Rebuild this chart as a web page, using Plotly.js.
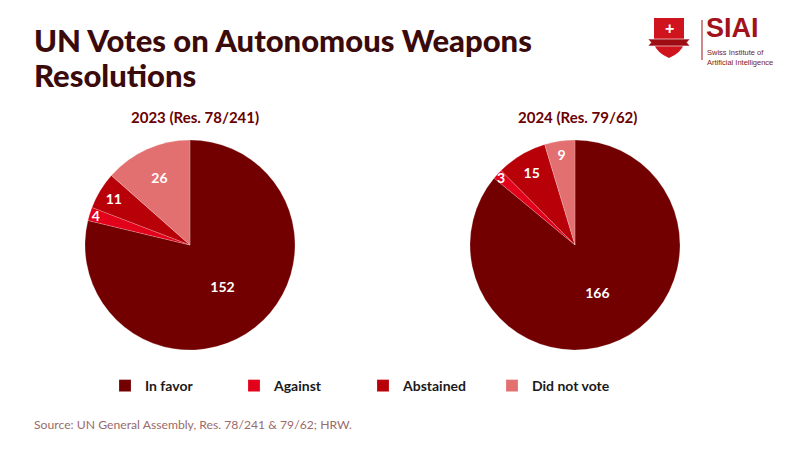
<!DOCTYPE html>
<html><head><meta charset="utf-8">
<script src="https://cdn.plot.ly/plotly-3.0.1.min.js"></script>
<style>html,body{margin:0;padding:0;background:#fff;}#chart{width:800px;height:450px;}</style>
</head><body><div id="chart"></div>
<script>
const categories = ["In favor", "Against", "Abstained", "Did not vote"];
const votes2023 = [152, 4, 11, 26];
const votes2024 = [166, 3, 15, 9];
const pieTitles = ["2023 (Res. 78/241)", "2024 (Res. 79/62)"];
const titleLines = ["UN Votes on Autonomous Weapons", "Resolutions"];
const colors = ["#730000", "#e3001b", "#b80008", "#e37070"];

const FONT = "Lato, 'Noto Sans', sans-serif";

function pie(vals, dx, show) {
  return {
    type: "pie", labels: categories, values: vals, sort: false, direction: "clockwise", rotation: 0,
    marker: {colors: colors, line: {color: "rgba(255,255,255,0.4)", width: 0.5}},
    textinfo: "value", textposition: "inside", insidetextorientation: "horizontal",
    textfont: {family: FONT, size: 14, color: "#ffffff", weight: 700},
    domain: {x: dx, y: [0.2222, 0.6889]}, showlegend: show, hoverinfo: "label+value"
  };
}

const data = [pie(votes2023, [0.10625, 0.36875], true), pie(votes2024, [0.5875, 0.85], false)];

const P = (px) => px / 800, Q = (py) => 1 - py / 450;

const layout = {
  width: 800, height: 450, margin: {l: 0, r: 0, t: 0, b: 0},
  paper_bgcolor: "#ffffff", plot_bgcolor: "#ffffff",
  font: {family: FONT},
  showlegend: true,
  uniformtext: {minsize: 14, mode: "show"},
  legend: {orientation: "h", x: P(105), xanchor: "left", y: Q(386), yanchor: "middle",
           font: {family: FONT, size: 14, color: "#1a1a1a", weight: 700},
           entrywidth: 84, traceorder: "normal", itemclick: false},
  annotations: [
    {text: titleLines[0], x: P(32), y: Q(40), xref: "paper", yref: "paper",
     xanchor: "left", yanchor: "middle", align: "left", showarrow: false,
     font: {family: FONT, size: 31, color: "#3b0a0a", weight: 900}},
    {text: titleLines[1], x: P(32), y: Q(75), xref: "paper", yref: "paper",
     xanchor: "left", yanchor: "middle", align: "left", showarrow: false,
     font: {family: FONT, size: 31, color: "#3b0a0a", weight: 900}},
    {text: pieTitles[0], x: P(195), y: Q(117), xref: "paper", yref: "paper", xanchor: "center", yanchor: "middle", showarrow: false,
     font: {family: FONT, size: 15, color: "#6b0000", weight: 700}},
    {text: pieTitles[1], x: P(577), y: Q(117), xref: "paper", yref: "paper", xanchor: "center", yanchor: "middle", showarrow: false,
     font: {family: FONT, size: 15, color: "#6b0000", weight: 700}},
    {text: "Source: UN General Assembly, Res. 78/241 & 79/62; HRW.", x: P(32), y: Q(424), xref: "paper", yref: "paper",
     xanchor: "left", yanchor: "middle", showarrow: false, font: {family: FONT, size: 12.2, color: "#9a6b6b"}},
    {text: "SIAI", x: P(704), y: Q(45), xref: "paper", yref: "paper", xanchor: "left", yanchor: "bottom", showarrow: false,
     font: {family: "'Liberation Sans', Arial, sans-serif", size: 27, color: "#a3111b", weight: 700}},
    {text: "Swiss Institute of<br>Artificial Intelligence", x: P(705), y: Q(46), xref: "paper", yref: "paper",
     xanchor: "left", yanchor: "top", align: "left", showarrow: false,
     font: {family: "'Liberation Sans', Arial, sans-serif", size: 7.5, color: "#7a1a1a"}},
    {text: "+", x: P(669), y: Q(29), xref: "paper", yref: "paper", xanchor: "center", yanchor: "middle", showarrow: false,
     font: {family: "'Liberation Sans', Arial", size: 16, color: "#ffffff", weight: 700}}
  ],
  shapes: [
    {type: "path", xref: "paper", yref: "paper",
     path: "M " + P(654) + "," + Q(18) + " L " + P(684) + "," + Q(18) + " L " + P(684) + "," + Q(44) +
           " Q " + P(681) + "," + Q(53) + " " + P(669) + "," + Q(58) +
           " Q " + P(657) + "," + Q(53) + " " + P(654) + "," + Q(44) + " Z",
     fillcolor: "#d0141e", line: {width: 0}},
    {type: "path", xref: "paper", yref: "paper",
     path: "M " + P(648) + "," + Q(39) + " L " + P(690) + "," + Q(39) + " L " + P(687) + "," + Q(42.5) +
           " L " + P(690) + "," + Q(46) + " L " + P(648) + "," + Q(46) + " L " + P(651) + "," + Q(42.5) + " Z",
     fillcolor: "#9e0c14", line: {color: "#ffffff", width: 0.6}},
    {type: "line", xref: "paper", yref: "paper", x0: P(702), x1: P(702), y0: Q(20), y1: Q(60),
     line: {color: "#a3111b", width: 1}}
  ]
};

Plotly.newPlot("chart", data, layout, {displayModeBar: false, staticPlot: true});
</script></body></html>
